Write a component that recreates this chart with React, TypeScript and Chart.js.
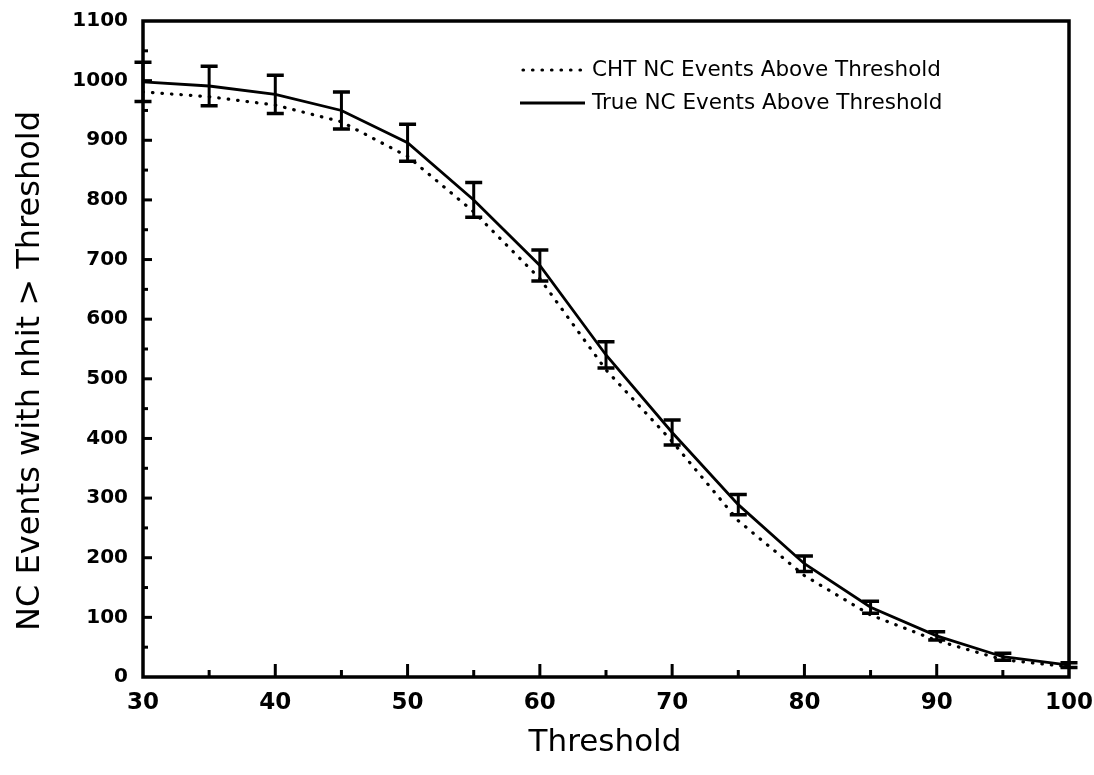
import React, { useEffect, useRef } from 'react';
import { Chart, registerables } from 'chart.js';

Chart.register(...registerables);

// ---- data ----
const thresholds = [30, 35, 40, 45, 50, 55, 60, 65, 70, 75, 80, 85, 90, 95, 100];
const trueEvents = [998, 991, 977, 950, 896, 800, 690, 540, 410, 289, 190, 117, 69, 34, 20];
const chtEvents = [981, 973, 959, 931, 873, 780, 668, 515, 395, 262, 170, 104, 61, 29, 17];
const trueErrors = [33, 33, 32, 31, 31, 29, 26, 22, 21, 17, 13, 10, 7, 6, 4];

const xMin = 30;
const xMax = 100;
const xStep = 10;
const xMinorStep = 5;
const yMin = 0;
const yMax = 1100;
const yStep = 100;
const yMinorStep = 50;

const legendLabels = ['CHT NC Events Above Threshold', 'True NC Events Above Threshold'];
const xTitle = 'Threshold';
const yTitle = 'NC Events with nhit > Threshold';

const FONT = "'DejaVu Sans', 'Liberation Sans', sans-serif";
const DOT_DASH = [0.5, 9];

const decorPlugin = {
  id: 'decor',
  afterDatasetsDraw(chart: any) {
    const { ctx, chartArea: a } = chart;
    const x = chart.scales.x;
    const y = chart.scales.y;
    ctx.save();
    ctx.strokeStyle = '#000';
    ctx.fillStyle = '#000';

    // error bars on the true curve
    ctx.lineWidth = 3;
    ctx.lineCap = 'butt';
    thresholds.forEach((t, i) => {
      const px = x.getPixelForValue(t);
      const top = y.getPixelForValue(trueEvents[i] + trueErrors[i]);
      const bot = y.getPixelForValue(trueEvents[i] - trueErrors[i]);
      ctx.lineWidth = 3;
      ctx.beginPath();
      ctx.moveTo(px, top);
      ctx.lineTo(px, bot);
      ctx.stroke();
      ctx.lineWidth = 3.5;
      ctx.beginPath();
      ctx.moveTo(px - 8.5, top);
      ctx.lineTo(px + 8.5, top);
      ctx.moveTo(px - 8.5, bot);
      ctx.lineTo(px + 8.5, bot);
      ctx.stroke();
    });

    // inward tick marks
    ctx.lineWidth = 3;
    for (let v = yMin + yMinorStep; v < yMax; v += yMinorStep) {
      const py = y.getPixelForValue(v);
      const len = v % yStep === 0 ? 9 : 5;
      ctx.beginPath();
      ctx.moveTo(a.left, py);
      ctx.lineTo(a.left + len, py);
      ctx.stroke();
    }
    for (let v = xMin + xMinorStep; v < xMax; v += xMinorStep) {
      const px = x.getPixelForValue(v);
      const len = v % xStep === 0 ? 13 : 7;
      ctx.beginPath();
      ctx.moveTo(px, a.bottom);
      ctx.lineTo(px, a.bottom - len);
      ctx.stroke();
    }

    // frame
    ctx.lineWidth = 3.5;
    ctx.strokeRect(a.left, a.top, a.right - a.left, a.bottom - a.top);

    // legend
    const lx0 = 523;
    const lx1 = 583;
    const ly = [70, 103];
    ctx.lineWidth = 3.2;
    ctx.lineCap = 'round';
    ctx.setLineDash(DOT_DASH);
    ctx.beginPath();
    ctx.moveTo(lx0, ly[0]);
    ctx.lineTo(lx1, ly[0]);
    ctx.stroke();
    ctx.setLineDash([]);
    ctx.lineCap = 'butt';
    ctx.lineWidth = 2.8;
    ctx.beginPath();
    ctx.moveTo(lx0 - 3, ly[1]);
    ctx.lineTo(lx1 + 2, ly[1]);
    ctx.stroke();
    ctx.font = `21.5px ${FONT}`;
    ctx.textAlign = 'left';
    ctx.textBaseline = 'middle';
    ctx.fillText(legendLabels[0], 592, ly[0]);
    ctx.fillText(legendLabels[1], 592, ly[1]);

    // axis titles
    ctx.font = `31px ${FONT}`;
    ctx.textAlign = 'center';
    ctx.textBaseline = 'middle';
    ctx.fillText(xTitle, 605, 743);
    ctx.save();
    ctx.translate(31, 371);
    ctx.rotate(-Math.PI / 2);
    ctx.font = `32px ${FONT}`;
    ctx.fillText(yTitle, 0, 0);
    ctx.restore();

    ctx.restore();
  },
};

export default function App() {
  const ref = useRef<HTMLCanvasElement | null>(null);

  useEffect(() => {
    document.body.style.margin = '0';
    document.body.style.background = '#fff';
    const canvas = ref.current;
    if (!canvas) return;
    const chart = new Chart(canvas, {
      type: 'line',
      data: {
        datasets: [
          {
            label: legendLabels[0],
            data: thresholds.map((t, i) => ({ x: t, y: chtEvents[i] })),
            borderColor: '#000',
            borderWidth: 3.2,
            borderDash: DOT_DASH,
            borderCapStyle: 'round',
            pointRadius: 0,
            tension: 0,
            fill: false,
          },
          {
            label: legendLabels[1],
            data: thresholds.map((t, i) => ({ x: t, y: trueEvents[i] })),
            borderColor: '#000',
            borderWidth: 2.8,
            pointRadius: 0,
            tension: 0,
            fill: false,
          },
        ],
      },
      options: {
        responsive: false,
        animation: false,
        events: [],
        layout: { padding: { top: 21, right: 25, left: 0, bottom: 0 } },
        plugins: {
          legend: { display: false },
          tooltip: { enabled: false },
          title: { display: false },
        },
        scales: {
          x: {
            type: 'linear',
            min: xMin,
            max: xMax,
            grid: { display: false, drawTicks: false },
            border: { display: false },
            ticks: {
              stepSize: xStep,
              color: '#000',
              padding: 12,
              maxRotation: 0,
              callback: (v: any) => String(v),
              font: { family: FONT, size: 23, weight: 'bold' },
            },
            afterFit: (s: any) => {
              s.height = 98;
              s.paddingLeft = 0;
              s.paddingRight = 0;
            },
          },
          y: {
            type: 'linear',
            min: yMin,
            max: yMax,
            grid: { display: false, drawTicks: false },
            border: { display: false },
            ticks: {
              stepSize: yStep,
              color: '#000',
              padding: 15,
              callback: (v: any) => String(v),
              font: { family: FONT, size: 20, weight: 'bold' },
            },
            afterFit: (s: any) => {
              s.width = 143;
              s.paddingTop = 0;
              s.paddingBottom = 0;
            },
          },
        },
      },
      plugins: [decorPlugin],
    });
    return () => chart.destroy();
  }, []);

  return (
    <div style={{ width: 1094, height: 775, background: '#fff' }}>
      <canvas ref={ref} width={1094} height={775} style={{ display: 'block' }} />
    </div>
  );
}
